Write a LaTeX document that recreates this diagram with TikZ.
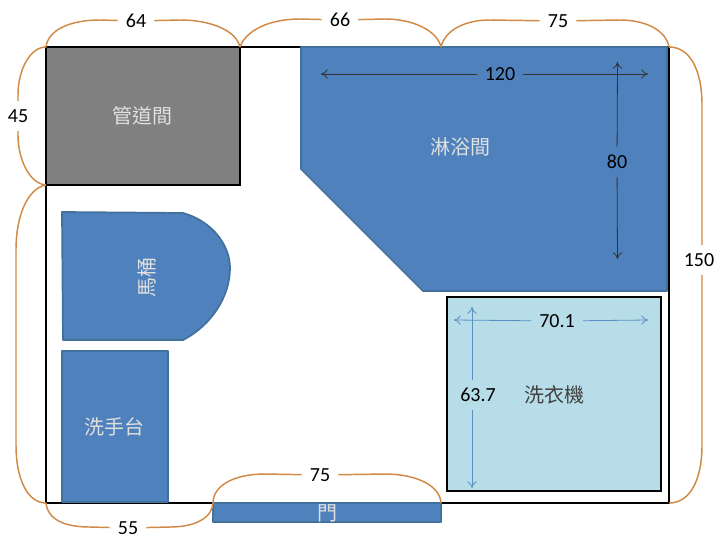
\documentclass[tikz,border=0pt]{standalone}
\usepackage{fontspec}
\setmainfont{Carlito}
\newfontfamily\cjk{Noto Sans CJK TC}
\usepackage{tikz}
\usetikzlibrary{arrows.meta}
\definecolor{wallblue}{HTML}{4F81BD}
\definecolor{edgeblue}{HTML}{41719C}
\definecolor{washerblue}{HTML}{B7DDE8}
\definecolor{bracecolor}{HTML}{D08A45}
\definecolor{dimblue}{HTML}{5B8FC4}
\tikzset{
  fixture/.style={fill=wallblue,draw=edgeblue,line width=1.3pt,line join=round},
  wall/.style={draw=black,line width=1.9pt},
  brace/.style={draw=bracecolor,line width=1.1pt},
  dimline/.style={draw=black!80,line width=0.6pt,>={To[length=5pt,width=7pt]}},
  numlabel/.style={font=\fontsize{15}{17}\selectfont,inner sep=6pt},
  roomlabel/.style={font=\cjk\fontsize{15}{17}\selectfont,text=white!88!black,inner sep=0pt}
}

\begin{document}
\begin{tikzpicture}[x=0.75pt,y=-0.75pt]
\useasboundingbox (0,0) rectangle (720,543);

% 房間外框上的各個轉角
\coordinate (wallNW) at (46,47);
\coordinate (wallNE) at (669,47);
\coordinate (wallSW) at (46,503);
\coordinate (wallSE) at (669,503);
\coordinate (pipeNE) at (240,47);
\coordinate (pipeSW) at (46,185);
\coordinate (showerN) at (441,47);
\coordinate (doorW) at (213,503);
\coordinate (doorE) at (441,503);

% 外框
\draw [wall] (wallNW) rectangle (wallSE);
% 馬桶、洗手台、門
\draw [fixture] (62,212) -- (183,213) .. controls (212,221) and (230,245) .. (230,268)
  .. controls (230,296) and (212,325) .. (183,340) -- (63,340) -- cycle;
\draw [fixture] (62,351) rectangle (168,502);
\draw [fixture] (213,503) rectangle (441,522);
% 淋浴間
\draw [fixture] (301,47) -- (667,47) -- (667,291) -- (423,291) -- (301,169) -- cycle;
% 管道間
\draw [wall,fill=black!50] (wallNW) rectangle (240,185);
% 洗衣機
\draw [wall,fill=washerblue] (447,297) rectangle (661,491);

% 文字
\node [roomlabel] (pipeRoom) at (142,116) {管道間};
\node [roomlabel] (showerRoom) at (460,147) {淋浴間};
\node [roomlabel,rotate=90] (toilet) at (147,277) {馬桶};
\node [roomlabel] (sink) at (114,427) {洗手台};
\node [roomlabel] (door) at (327,513) {門};
\node [roomlabel,text=black!75] (washer) at (554,395) {洗衣機};

% 尺寸箭頭
\node [numlabel] (dimA) at (500,74) {120};
\node [numlabel] (dimB) at (617,162) {80};
\node [numlabel] (dimC) at (557,321) {70.1};
\node [numlabel] (dimD) at (478,395) {63.7};
\coordinate (dimAw) at (321,74);
\coordinate (dimAe) at (648,74);
\coordinate (dimBn) at (617.5,62);
\coordinate (dimBs) at (617.5,259);
\coordinate (dimCw) at (454,320);
\coordinate (dimCe) at (648,320);
\coordinate (dimDn) at (472,307);
\coordinate (dimDs) at (472,488);
\draw [dimline,<-] (dimAw) -- (dimA);
\draw [dimline,->] (dimA) -- (dimAe);
\draw [dimline,<-] (dimBn) -- (dimB);
\draw [dimline,->] (dimB) -- (dimBs);
\draw [dimline,draw=dimblue,<-] (dimCw) -- (dimC);
\draw [dimline,draw=dimblue,->] (dimC) -- (dimCe);
\draw [dimline,draw=dimblue,<-] (dimDn) -- (dimD.north -| dimDn);
\draw [dimline,draw=dimblue,->] (dimD.south -| dimDn) -- (dimDs);

% 外面的括號
\node [numlabel] (top64) at (136,21) {64};
\draw [brace] (top64) -- (100,20) .. controls (70,20) and (48,30) .. (wallNW);
\draw [brace] (top64) -- (180,20) .. controls (210,20) and (236,30) .. (pipeNE);
\node [numlabel] (top66) at (340,20) {66};
\draw [brace] (top66) -- (300,19) .. controls (270,19) and (246,30) .. (pipeNE);
\draw [brace] (top66) -- (385,19) .. controls (412,19) and (437,30) .. (showerN);
\node [numlabel] (top75) at (558,21) {75};
\draw [brace] (top75) -- (490,20) .. controls (465,20) and (445,30) .. (showerN);
\draw [brace] (top75) -- (620,20) .. controls (645,20) and (666,30) .. (wallNE);
\node [numlabel] (right150) at (699,260) {150};
\draw [brace] (right150.north -| 702,0) -- (702,105) .. controls (702,70) and (690,47) .. (wallNE);
\draw [brace] (right150.south -| 702,0) -- (702,445) .. controls (702,480) and (690,503) .. (wallSE);
\node [numlabel] (left45) at (18,116) {45};
\draw [brace] (left45) -- (18,95) .. controls (18,70) and (30,47) .. (wallNW);
\draw [brace] (left45) -- (18,135) .. controls (18,160) and (30,184) .. (pipeSW);
\draw [brace] (pipeSW) .. controls (28,188) and (16,215) .. (16,250) -- (16,445)
  .. controls (16,480) and (28,503) .. (wallSW);
\node [numlabel] (bottom55) at (128,528) {55};
\draw [brace] (bottom55) -- (90,527) .. controls (65,527) and (48,520) .. (wallSW);
\draw [brace] (bottom55) -- (170,527) .. controls (195,527) and (212,518) .. (doorW);
\node [numlabel] (door75) at (320,475) {75};
\draw [brace] (door75) -- (265,474) .. controls (235,474) and (213,485) .. (doorW);
\draw [brace] (door75) -- (385,474) .. controls (415,474) and (440,485) .. (doorE);

\end{tikzpicture}
\end{document}
